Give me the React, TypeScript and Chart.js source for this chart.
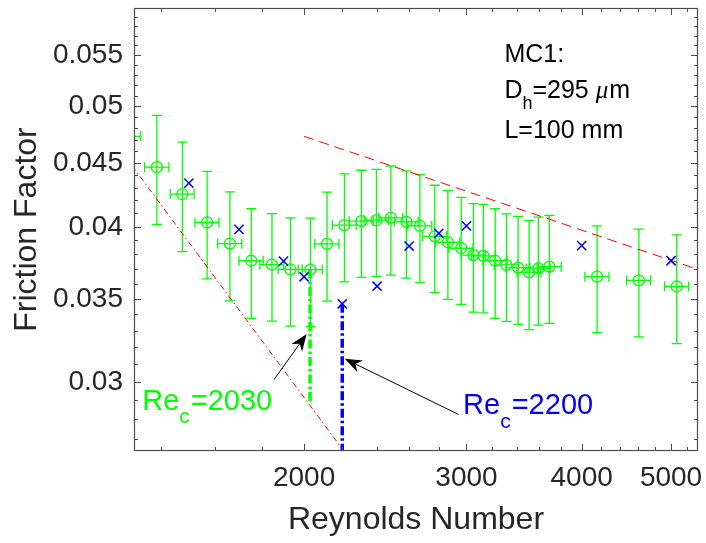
import React, { useEffect, useRef } from 'react';
import { Chart, registerables } from 'chart.js';

Chart.register(...registerables);

const FONT = "'Liberation Sans', Arial, Helvetica, sans-serif";
const TEXT = '#262626';
const AXIS = '#4d4d4d';
const GREEN = '#00ff00';
const BLUE = '#0000ff';
const RED = '#ff0000';

// Measured friction factor (green circles with error bars)
const greenRe = [1291, 1385, 1476, 1570, 1662, 1753, 1846, 1933, 2032, 2118, 2212, 2308, 2396, 2484, 2582, 2671, 2772, 2864, 2961, 3053, 3130, 3223, 3315, 3413, 3508, 3590, 3690, 4157, 4614, 5072];
const greenF = [0.0473, 0.04467, 0.0425, 0.04032, 0.03877, 0.03756, 0.03729, 0.03697, 0.03695, 0.03875, 0.04012, 0.04042, 0.04049, 0.04067, 0.04037, 0.04007, 0.0393, 0.03887, 0.03844, 0.03795, 0.0379, 0.03756, 0.03727, 0.03708, 0.03676, 0.03703, 0.03715, 0.03647, 0.03622, 0.03581];
const greenReErr = [39, 42, 44, 47, 50, 53, 55, 58, 61, 64, 66, 69, 72, 75, 77, 80, 83, 86, 89, 92, 94, 97, 99, 102, 105, 108, 111, 125, 138, 152];
const greenFErr = [0.0047, 0.0045, 0.0043, 0.004, 0.0039, 0.0038, 0.0037, 0.0037, 0.0037, 0.0039, 0.004, 0.004, 0.004, 0.0041, 0.004, 0.004, 0.0039, 0.0039, 0.0038, 0.0038, 0.0038, 0.0038, 0.0037, 0.0037, 0.0037, 0.0037, 0.0037, 0.0036, 0.0036, 0.0036];

// Second series (blue crosses)
const blueRe = [1500, 1700, 1900, 2000, 2200, 2400, 2600, 2800, 3000, 4000, 5000];
const blueF = [0.04337, 0.03981, 0.03753, 0.03646, 0.03468, 0.03583, 0.0386, 0.03952, 0.04007, 0.03863, 0.03756];

// Reference correlations (end points)
const laminarRe = [1250, 2300];
const laminarF = [0.04664, 0.02535];
const turbRe = [2000, 5348];
const turbF = [0.0473, 0.03696];

// Critical Reynolds number markers
const critGreenRe = [2030, 2030];
const critGreenF = [0.03695, 0.0288];
const critBlueRe = [2200, 2200];
const critBlueF = [0.03468, 0.0264];

// Axes
const X_MIN = 1308;
const X_MAX = 5348;
const Y_MIN = 0.0264;
const Y_MAX = 0.06;
const xMajorTicks = [2000, 3000, 4000, 5000];
const xMinorTicks = [1400, 1600, 1800, 2200, 2400, 2600, 2800, 3200, 3400, 3600, 3800, 4200, 4400, 4600, 4800, 5200];
const yMajorTicks = [0.03, 0.035, 0.04, 0.045, 0.05, 0.055];
const yMinorTicks = [0.027, 0.028, 0.029, 0.031, 0.032, 0.033, 0.034, 0.036, 0.037, 0.038, 0.039, 0.041, 0.042, 0.043, 0.044, 0.046, 0.047, 0.048, 0.049, 0.051, 0.052, 0.053, 0.054, 0.056, 0.057, 0.058, 0.059];

// Annotation anchors (data coordinates)
const labelGreen = { re: 1335, f: 0.02851, main: 'Re', sub: 'c', rest: '=2030' };
const labelBlue = { re: 2975, f: 0.02825, main: 'Re', sub: 'c', rest: '=2200' };
const arrowGreen = { fromRe: 1855, fromF: 0.03013, toRe: 2013, toF: 0.03279 };
const arrowBlue = { fromRe: 2941, fromF: 0.02825, toRe: 2214, toF: 0.03132 };
const infoRe = 3298;
const infoF = [0.05432, 0.05075, 0.04714];

const toPts = (xs: number[], ys: number[]) => xs.map((x, i) => ({ x, y: ys[i] }));

const frameTicksPlugin = {
  id: 'frameTicks',
  afterDraw(chart: any) {
    const { ctx, chartArea: a, scales } = chart;
    const xs = scales.x;
    const ys = scales.y;
    ctx.save();
    ctx.strokeStyle = AXIS;
    ctx.lineWidth = 1.2;
    ctx.strokeRect(a.left + 0.5, a.top + 0.5, a.right - a.left - 1, a.bottom - a.top - 1);
    ctx.lineWidth = 1;
    const drawX = (v: number, len: number) => {
      const p = Math.round(xs.getPixelForValue(v)) + 0.5;
      ctx.beginPath();
      ctx.moveTo(p, a.bottom);
      ctx.lineTo(p, a.bottom - len);
      ctx.moveTo(p, a.top);
      ctx.lineTo(p, a.top + len);
      ctx.stroke();
    };
    const drawY = (v: number, len: number) => {
      const p = Math.round(ys.getPixelForValue(v)) + 0.5;
      ctx.beginPath();
      ctx.moveTo(a.left, p);
      ctx.lineTo(a.left + len, p);
      ctx.moveTo(a.right, p);
      ctx.lineTo(a.right - len, p);
      ctx.stroke();
    };
    xMajorTicks.forEach((v) => drawX(v, 7));
    xMinorTicks.forEach((v) => drawX(v, 4));
    yMajorTicks.forEach((v) => drawY(v, 7));
    yMinorTicks.forEach((v) => drawY(v, 4));
    ctx.restore();
  },
};

const errorBarPlugin = {
  id: 'errorBars',
  beforeDatasetsDraw(chart: any) {
    const { ctx, chartArea: a, scales } = chart;
    const xs = scales.x;
    const ys = scales.y;
    ctx.save();
    ctx.beginPath();
    ctx.rect(a.left, a.top, a.right - a.left, a.bottom - a.top);
    ctx.clip();
    ctx.strokeStyle = GREEN;
    ctx.lineWidth = 1.3;
    const cap = 5;
    greenRe.forEach((re, i) => {
      const f = greenF[i];
      const px = xs.getPixelForValue(re);
      const py = ys.getPixelForValue(f);
      const yTop = ys.getPixelForValue(f + greenFErr[i]);
      const yBot = ys.getPixelForValue(f - greenFErr[i]);
      const xL = xs.getPixelForValue(re - greenReErr[i]);
      const xR = xs.getPixelForValue(re + greenReErr[i]);
      ctx.beginPath();
      ctx.moveTo(px, yTop);
      ctx.lineTo(px, yBot);
      ctx.moveTo(px - cap, yTop);
      ctx.lineTo(px + cap, yTop);
      ctx.moveTo(px - cap, yBot);
      ctx.lineTo(px + cap, yBot);
      ctx.moveTo(xL, py);
      ctx.lineTo(xR, py);
      ctx.moveTo(xL, py - cap);
      ctx.lineTo(xL, py + cap);
      ctx.moveTo(xR, py - cap);
      ctx.lineTo(xR, py + cap);
      ctx.stroke();
    });
    ctx.restore();
  },
};

function drawSubLabel(ctx: any, x: number, y: number, lab: any, size: number, color: string) {
  ctx.fillStyle = color;
  ctx.textBaseline = 'alphabetic';
  ctx.textAlign = 'left';
  ctx.font = `${size}px ${FONT}`;
  ctx.fillText(lab.main, x, y);
  let cx = x + ctx.measureText(lab.main).width;
  const subSize = Math.round(size * 0.72);
  ctx.font = `${subSize}px ${FONT}`;
  ctx.fillText(lab.sub, cx, y + size * 0.45);
  cx += ctx.measureText(lab.sub).width + 1;
  ctx.font = `${size}px ${FONT}`;
  ctx.fillText(lab.rest, cx, y);
}

function drawArrow(ctx: any, x1: number, y1: number, x2: number, y2: number) {
  const ang = Math.atan2(y2 - y1, x2 - x1);
  const len = 17;
  const w = 6.5;
  const bx = x2 - len * Math.cos(ang);
  const by = y2 - len * Math.sin(ang);
  const nx = x2 - len * 0.7 * Math.cos(ang);
  const ny = y2 - len * 0.7 * Math.sin(ang);
  ctx.strokeStyle = '#000';
  ctx.fillStyle = '#000';
  ctx.lineWidth = 1;
  ctx.beginPath();
  ctx.moveTo(x1, y1);
  ctx.lineTo(nx, ny);
  ctx.stroke();
  ctx.beginPath();
  ctx.moveTo(x2, y2);
  ctx.lineTo(bx - w * Math.sin(ang), by + w * Math.cos(ang));
  ctx.lineTo(nx, ny);
  ctx.lineTo(bx + w * Math.sin(ang), by - w * Math.cos(ang));
  ctx.closePath();
  ctx.fill();
}

const annotationPlugin = {
  id: 'annotations',
  afterDatasetsDraw(chart: any) {
    const { ctx, scales } = chart;
    const xs = scales.x;
    const ys = scales.y;
    ctx.save();
    drawArrow(ctx, xs.getPixelForValue(arrowGreen.fromRe), ys.getPixelForValue(arrowGreen.fromF), xs.getPixelForValue(arrowGreen.toRe), ys.getPixelForValue(arrowGreen.toF));
    drawArrow(ctx, xs.getPixelForValue(arrowBlue.fromRe), ys.getPixelForValue(arrowBlue.fromF), xs.getPixelForValue(arrowBlue.toRe), ys.getPixelForValue(arrowBlue.toF));
    drawSubLabel(ctx, xs.getPixelForValue(labelGreen.re), ys.getPixelForValue(labelGreen.f), labelGreen, 29, GREEN);
    drawSubLabel(ctx, xs.getPixelForValue(labelBlue.re), ys.getPixelForValue(labelBlue.f), labelBlue, 29, BLUE);

    // info block
    const ix = xs.getPixelForValue(infoRe);
    const size = 25;
    ctx.fillStyle = '#000';
    ctx.textAlign = 'left';
    ctx.textBaseline = 'alphabetic';
    ctx.font = `${size}px ${FONT}`;
    ctx.fillText('MC1:', ix, ys.getPixelForValue(infoF[0]));
    const y2 = ys.getPixelForValue(infoF[1]);
    let cx = ix;
    ctx.fillText('D', cx, y2);
    cx += ctx.measureText('D').width;
    ctx.font = `18px ${FONT}`;
    ctx.fillText('h', cx, y2 + 11);
    cx += ctx.measureText('h').width;
    ctx.font = `${size}px ${FONT}`;
    ctx.fillText('=295 ', cx, y2);
    cx += ctx.measureText('=295 ').width;
    ctx.font = `italic ${size}px 'Liberation Serif', serif`;
    ctx.fillText('\u03bc', cx, y2);
    cx += ctx.measureText('\u03bc').width + 1;
    ctx.font = `${size}px ${FONT}`;
    ctx.fillText('m', cx, y2);
    ctx.fillText('L=100 mm', ix, ys.getPixelForValue(infoF[2]));
    ctx.restore();
  },
};

const zeroPad = (scale: any) => {
  scale.paddingTop = 0;
  scale.paddingBottom = 0;
  scale.paddingLeft = 0;
  scale.paddingRight = 0;
};

export default function App() {
  const canvasRef = useRef<HTMLCanvasElement | null>(null);

  useEffect(() => {
    if (!canvasRef.current) return;
    const chart = new Chart(canvasRef.current, {
      type: 'scatter',
      data: {
        datasets: [
          {
            label: 'blue',
            data: toPts(blueRe, blueF),
            pointStyle: 'crossRot',
            pointRadius: 6.5,
            pointBorderColor: BLUE,
            pointBorderWidth: 1.5,
            pointBackgroundColor: BLUE,
            showLine: false,
            clip: 0,
          } as any,
          {
            label: 'green',
            data: toPts(greenRe, greenF),
            pointStyle: 'circle',
            pointRadius: 5.5,
            pointBorderColor: GREEN,
            pointBorderWidth: 1.3,
            pointBackgroundColor: 'rgba(0,0,0,0)',
            showLine: false,
            clip: 0,
          } as any,
          {
            label: 'critGreen',
            data: toPts(critGreenRe, critGreenF),
            showLine: true,
            borderColor: GREEN,
            borderWidth: 3.5,
            borderDash: [9, 3, 2.5, 3],
            pointRadius: 0,
            clip: 0,
          } as any,
          {
            label: 'critBlue',
            data: toPts(critBlueRe, critBlueF),
            showLine: true,
            borderColor: BLUE,
            borderWidth: 3.5,
            borderDash: [9, 3, 2.5, 3],
            pointRadius: 0,
            clip: 0,
          } as any,
          {
            label: 'laminar',
            data: toPts(laminarRe, laminarF),
            showLine: true,
            borderColor: RED,
            borderWidth: 1,
            borderDash: [6, 3, 1.5, 3],
            pointRadius: 0,
            clip: 0,
          } as any,
          {
            label: 'turb',
            data: toPts(turbRe, turbF),
            showLine: true,
            borderColor: RED,
            borderWidth: 1,
            borderDash: [10, 6],
            pointRadius: 0,
            clip: 0,
          } as any,
        ],
      },
      options: {
        animation: false,
        responsive: true,
        maintainAspectRatio: false,
        layout: { padding: { left: 0, top: 6, right: 7, bottom: 0 } },
        plugins: {
          legend: { display: false },
          tooltip: { enabled: false },
        },
        events: [],
        scales: {
          x: {
            type: 'logarithmic',
            position: 'bottom',
            min: X_MIN,
            max: X_MAX,
            grid: { display: false, drawTicks: false },
            border: { display: false },
            afterBuildTicks: (scale: any) => {
              scale.ticks = xMajorTicks.map((v) => ({ value: v }));
            },
            afterFit: (scale: any) => {
              scale.height = 92;
              zeroPad(scale);
            },
            ticks: {
              autoSkip: false,
              maxRotation: 0,
              padding: 10,
              color: TEXT,
              font: { family: FONT, size: 28 },
              callback: (v: any) => String(v),
            },
            title: {
              display: true,
              text: 'Reynolds Number',
              color: TEXT,
              font: { family: FONT, size: 32 },
              padding: { top: 0, bottom: 4 },
            },
          },
          y: {
            type: 'logarithmic',
            position: 'left',
            min: Y_MIN,
            max: Y_MAX,
            grid: { display: false, drawTicks: false },
            border: { display: false },
            afterBuildTicks: (scale: any) => {
              scale.ticks = yMajorTicks.map((v) => ({ value: v }));
            },
            afterFit: (scale: any) => {
              scale.width = 134;
              zeroPad(scale);
            },
            ticks: {
              autoSkip: false,
              padding: 11,
              color: TEXT,
              font: { family: FONT, size: 28 },
              callback: (v: any) => String(v),
            },
            title: {
              display: true,
              text: 'Friction Factor',
              color: TEXT,
              font: { family: FONT, size: 32 },
              padding: { top: 8, bottom: 0 },
            },
          },
        },
      } as any,
      plugins: [errorBarPlugin, annotationPlugin, frameTicksPlugin],
    });
    return () => chart.destroy();
  }, []);

  return (
    <div style={{ position: 'fixed', left: 0, top: 0, width: 706, height: 543, background: '#fff' }}>
      <canvas ref={canvasRef} />
    </div>
  );
}
